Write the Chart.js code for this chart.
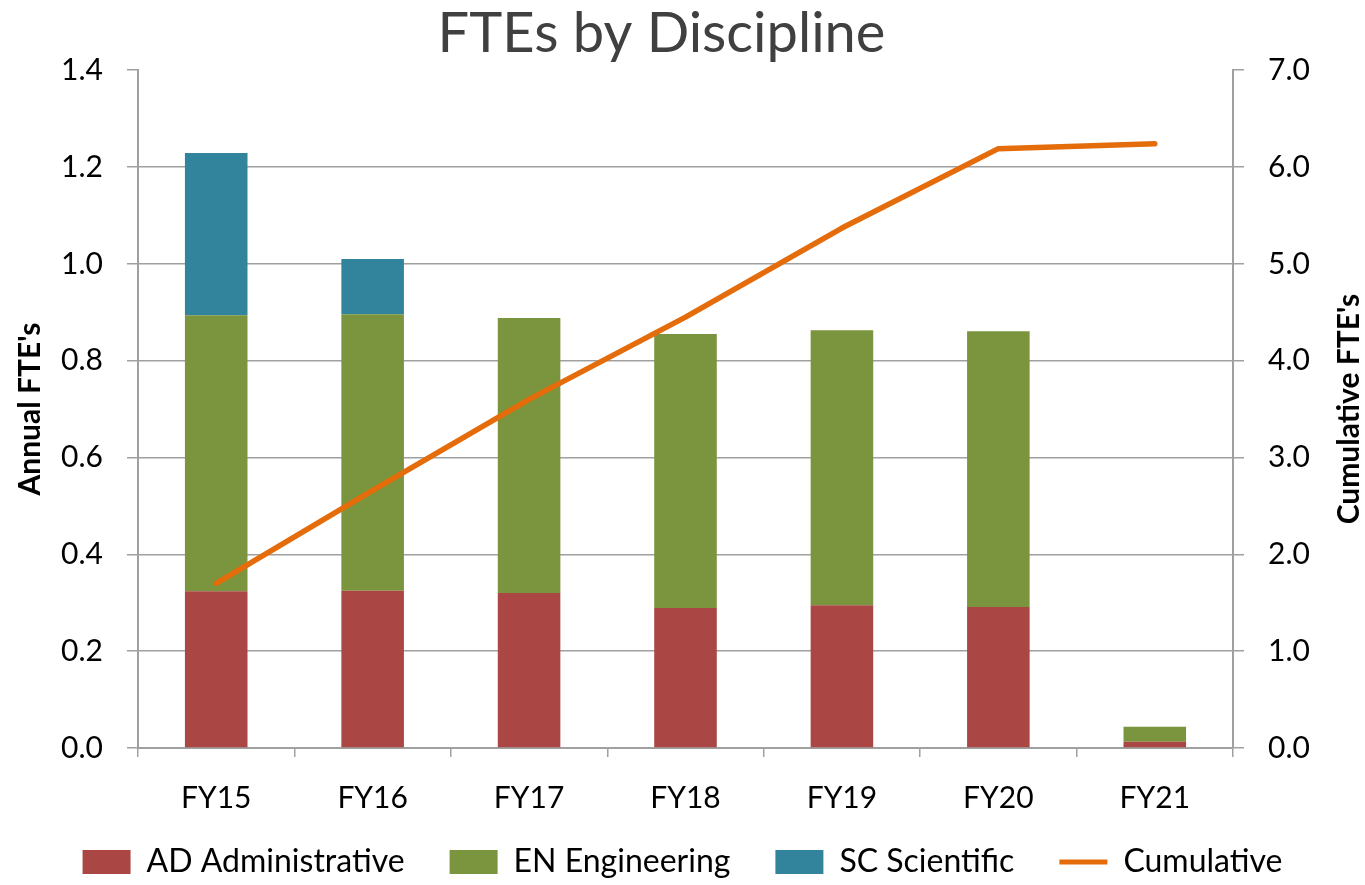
<!DOCTYPE html>
<html>
<head>
<meta charset="utf-8">
<script src="https://cdn.jsdelivr.net/npm/chart.js@4"></script>
<style>
  html, body { margin: 0; padding: 0; background: #fff; }
  #wrap { width: 1365px; height: 885px; }
</style>
</head>
<body>
<div id="wrap"><canvas id="c" width="1365" height="885"></canvas></div>
<script>
const categories = ["FY15", "FY16", "FY17", "FY18", "FY19", "FY20", "FY21"];
const adAdministrative = [0.324, 0.325, 0.320, 0.289, 0.295, 0.291, 0.013];
const enEngineering = [0.570, 0.571, 0.568, 0.566, 0.568, 0.570, 0.031];
const scScientific = [0.335, 0.114, 0, 0, 0, 0, 0];
const cumulative = [1.70, 2.66, 3.60, 4.45, 5.37, 6.19, 6.24];
const leftTicks = [0, 0.2, 0.4, 0.6, 0.8, 1.0, 1.2, 1.4];
const rightTicks = [0, 1, 2, 3, 4, 5, 6, 7];

const FONT = "Lato, 'Open Sans', sans-serif";
const GRID = '#a0a0a0';

const layoutTweaks = {
  id: 'layoutTweaks',
  afterLayout(chart) {
    // shift legend block up so items sit on the reference baseline
    if (chart.legend) {
      chart.legend.top = 801;
      chart.legend.bottom = 885;
    }
    // title centred slightly left of canvas centre, as in the reference
    if (chart.titleBlock) {
      chart.titleBlock.left -= 21;
      chart.titleBlock.right -= 21;
    }
  },
  afterDraw(chart) {
    const ctx = chart.ctx;
    const area = chart.chartArea;
    ctx.save();
    ctx.font = "bold 30px " + FONT;
    ctx.fillStyle = '#000';
    ctx.textAlign = 'center';
    ctx.textBaseline = 'middle';
    ctx.translate(1349, (area.top + area.bottom) / 2);
    ctx.rotate(-Math.PI / 2);
    ctx.fillText("Cumulative FTE's", 0, 0);
    ctx.restore();
  }
};

new Chart(document.getElementById('c'), {
  type: 'bar',
  data: {
    labels: categories,
    datasets: [
      { label: 'AD Administrative', data: adAdministrative, backgroundColor: '#AA4744', yAxisID: 'y', stack: 's', order: 1 },
      { label: 'EN Engineering', data: enEngineering, backgroundColor: '#7A953D', yAxisID: 'y', stack: 's', order: 1 },
      { label: 'SC Scientific', data: scScientific, backgroundColor: '#31849B', yAxisID: 'y', stack: 's', order: 1 },
      { type: 'line', label: 'Cumulative', data: cumulative, borderColor: '#E46C0A', backgroundColor: '#E46C0A',
        borderWidth: 5.5, pointRadius: 0, borderCapStyle: 'round', borderJoinStyle: 'round', tension: 0,
        yAxisID: 'y2', order: 0 }
    ]
  },
  options: {
    responsive: false,
    animation: false,
    layout: { padding: { left: 0, right: 0, top: 0, bottom: 0 } },
    datasets: { bar: { categoryPercentage: 1.0, barPercentage: 0.4 } },
    plugins: {
      tooltip: { enabled: false },
      title: {
        display: true,
        text: 'FTEs by Discipline',
        color: '#404040',
        font: { family: FONT, size: 56, weight: 'normal' },
        padding: { top: 0, bottom: 3 }
      },
      legend: {
        position: 'bottom',
        maxHeight: 47,
        labels: {
          usePointStyle: true,
          pointStyleWidth: 48,
          boxHeight: 24,
          color: '#000',
          font: { family: FONT, size: 32 },
          padding: 45,
          generateLabels(chart) {
            const items = Chart.defaults.plugins.legend.labels.generateLabels(chart);
            items.sort((a, b) => a.datasetIndex - b.datasetIndex);
            items.forEach(it => {
              if (it.datasetIndex === 3) {
                it.pointStyle = 'line';
                it.lineWidth = 5;
                it.strokeStyle = '#E46C0A';
              } else {
                it.pointStyle = 'rect';
                it.lineWidth = 0;
              }
            });
            return items;
          }
        }
      }
    },
    scales: {
      x: {
        stacked: true,
        offset: true,
        grid: { offset: true, drawOnChartArea: false, color: GRID, tickLength: 9, lineWidth: 1.5 },
        border: { color: GRID, width: 2 },
        ticks: { color: '#000', font: { family: FONT, size: 30 }, padding: 23 },
        afterFit(s) { s.height = 90; }
      },
      y: {
        position: 'left',
        stacked: true,
        min: 0, max: 1.4,
        afterBuildTicks(s) { s.ticks = leftTicks.map(v => ({ value: v })); },
        ticks: { color: '#000', font: { family: FONT, size: 30 }, padding: 24,
                 callback: v => Number(v).toFixed(1) },
        grid: { color: ctx => (ctx.tick && ctx.tick.value >= 1.4) ? 'rgba(0,0,0,0)' : GRID,
                tickColor: GRID, tickLength: 11, lineWidth: 1.5 },
        border: { color: GRID, width: 2 },
        title: { display: true, text: "Annual FTE's", color: '#000',
                 font: { family: FONT, size: 30, weight: 'bold' }, padding: { top: 12, bottom: 0 } },
        afterFit(s) { s.width = 138; }
      },
      y2: {
        position: 'right',
        min: 0, max: 7,
        afterBuildTicks(s) { s.ticks = rightTicks.map(v => ({ value: v })); },
        ticks: { color: '#000', font: { family: FONT, size: 30 }, padding: 24,
                 callback: v => Number(v).toFixed(1) },
        grid: { drawOnChartArea: false, color: GRID, tickLength: 11, lineWidth: 1.5 },
        border: { color: GRID, width: 2 },
        afterFit(s) { s.width = 132; }
      }
    }
  },
  plugins: [layoutTweaks]
});
</script>
</body>
</html>
